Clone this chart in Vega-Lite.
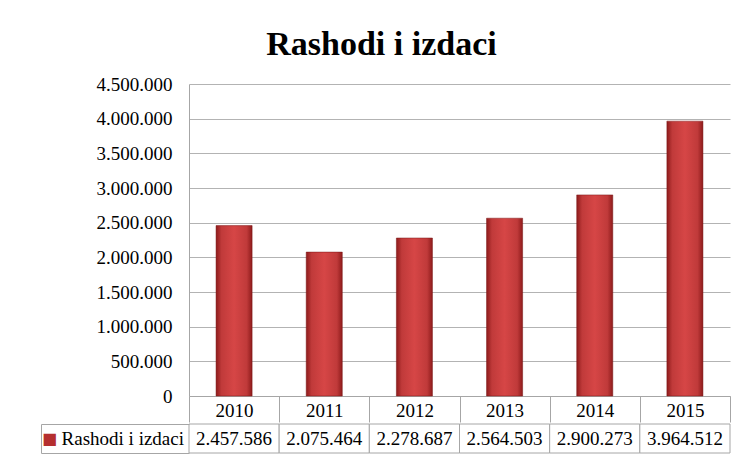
{
  "$schema": "https://vega.github.io/schema/vega-lite/v6.json",
  "background": "white",
  "padding": {"left": 40, "top": 28, "right": 5, "bottom": 2},
  "title": {
    "text": "Rashodi i izdaci",
    "font": "Liberation Serif",
    "fontSize": 34,
    "fontWeight": "bold",
    "color": "#000000",
    "anchor": "middle",
    "dx": -4,
    "offset": 13
  },
  "datasets": {
    "rashodi": [
      {"godina": "2010", "iznos": 2457586},
      {"godina": "2011", "iznos": 2075464},
      {"godina": "2012", "iznos": 2278687},
      {"godina": "2013", "iznos": 2564503},
      {"godina": "2014", "iznos": 2900273},
      {"godina": "2015", "iznos": 3964512}
    ]
  },
  "spacing": 0,
  "vconcat": [
    {
      "width": 541,
      "height": 312,
      "data": {"name": "rashodi"},
      "resolve": {"scale": {"x": "independent"}, "axis": {"x": "independent"}},
      "layer": [
        {
          "mark": {"type": "rule", "opacity": 0},
          "encoding": {
            "x": {
              "field": "godina", "type": "ordinal",
              "scale": {"paddingInner": 0, "paddingOuter": 0},
              "axis": {
                "title": null,
                "orient": "bottom",
                "domain": true,
                "domainColor": "#a6a6a6",
                "ticks": true,
                "tickBand": "extent",
                "tickSize": 26,
                "tickColor": "#a6a6a6",
                "tickWidth": 1,
                "labelAngle": 0,
                "labelFont": "Liberation Serif",
                "labelFontSize": 19,
                "labelColor": "#000000",
                "labelBaseline": "middle",
                "labelPadding": -12
              }
            }
          }
        },
        {
          "mark": {
            "type": "bar",
            "fill": {
              "gradient": "linear", "x1": 0, "y1": 0, "x2": 1, "y2": 0,
              "stops": [
                {"offset": 0, "color": "#8e1b1b"},
                {"offset": 0.15, "color": "#c03a3a"},
                {"offset": 0.5, "color": "#d64646"},
                {"offset": 0.85, "color": "#c03a3a"},
                {"offset": 1, "color": "#8e1b1b"}
              ]
            },
            "stroke": "#7a1515",
            "strokeWidth": 0.5
          },
          "encoding": {
            "x": {
              "field": "godina", "type": "ordinal", "axis": null,
              "scale": {"paddingInner": 0.6, "paddingOuter": 0.3}
            },
            "y": {
              "field": "iznos", "type": "quantitative",
              "scale": {"domain": [0, 4500000], "nice": false},
              "axis": {
                "values": [0, 500000, 1000000, 1500000, 2000000, 2500000, 3000000, 3500000, 4000000, 4500000],
                "format": ",d",
                "title": null,
                "labelFont": "Liberation Serif",
                "labelFontSize": 19,
                "labelColor": "#000000",
                "ticks": false,
                "labelPadding": 17,
                "domainColor": "#a6a6a6",
                "grid": true,
                "gridColor": "#b3b3b3"
              }
            }
          }
        }
      ]
    },
    {
      "width": 541,
      "height": 29,
      "data": {"name": "rashodi"},
      "layer": [
        {
          "mark": {"type": "rect", "fill": "white", "stroke": "#a6a6a6", "strokeWidth": 1},
          "encoding": {
            "x": {"field": "godina", "type": "ordinal", "axis": null, "scale": {"paddingInner": 0, "paddingOuter": 0}},
            "y": {
              "datum": "Rashodi i izdaci", "type": "nominal",
              "scale": {"paddingInner": 0, "paddingOuter": 0},
              "axis": {
                "title": null,
                "labels": false,
                "offset": 148,
                "domain": true,
                "domainColor": "#a6a6a6",
                "domainWidth": 1,
                "ticks": true,
                "tickBand": "extent",
                "tickSize": -148,
                "tickColor": "#a6a6a6",
                "tickWidth": 1,
                "grid": false
              }
            }
          }
        },
        {
          "mark": {"type": "text", "font": "Liberation Serif", "fontSize": 19, "color": "#000000"},
          "encoding": {
            "x": {"field": "godina", "type": "ordinal"},
            "y": {"datum": "Rashodi i izdaci", "type": "nominal"},
            "text": {"field": "iznos", "type": "quantitative", "format": ",d"}
          }
        },
        {
          "data": {"values": [{"naziv": "Rashodi i izdaci"}]},
          "mark": {"type": "text", "align": "right", "dx": -5, "font": "Liberation Serif", "fontSize": 19, "color": "#000000"},
          "encoding": {
            "x": {"datum": "2010", "type": "ordinal", "bandPosition": 0},
            "y": {"datum": "Rashodi i izdaci", "type": "nominal"},
            "text": {"field": "naziv"}
          }
        },
        {
          "data": {"values": [{"naziv": "Rashodi i izdaci"}]},
          "mark": {"type": "text", "align": "left", "dx": -147, "font": "DejaVu Sans", "fontSize": 16, "color": "#b52f2f", "text": "■"},
          "encoding": {
            "x": {"datum": "2010", "type": "ordinal", "bandPosition": 0},
            "y": {"datum": "Rashodi i izdaci", "type": "nominal"}
          }
        }
      ]
    }
  ],
  "config": {
    "view": {"stroke": null},
    "locale": {
      "number": {"decimal": ",", "thousands": ".", "grouping": [3], "currency": ["", " kn"]}
    }
  }
}
